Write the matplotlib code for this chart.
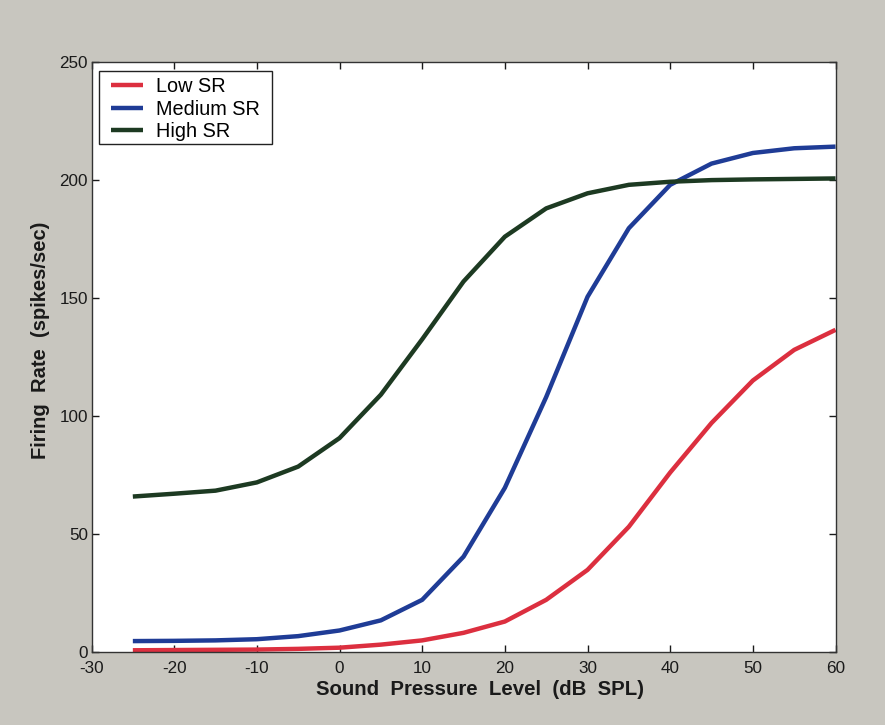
import matplotlib
matplotlib.use("Agg")
import matplotlib.pyplot as plt
from matplotlib.patches import Rectangle

# Sound level (dB SPL) at which the rate-level functions were sampled
level_db = [-25, -20, -15, -10, -5, 0, 5, 10, 15, 20, 25, 30, 35, 40, 45, 50, 55, 60]

# Firing rate (spikes/sec) for each spontaneous-rate class
low_sr = [0.6, 0.7, 0.8, 0.9, 1.2, 1.7, 3.0, 4.8, 8.0, 12.8, 22.0, 34.7, 53.0, 76.0,
          97.0, 115.0, 128.0, 136.5]
medium_sr = [4.5, 4.6, 4.8, 5.3, 6.6, 9.0, 13.3, 22.0, 40.3, 69.5, 108.0, 150.5, 179.6,
             198.0, 207.0, 211.5, 213.5, 214.2]
high_sr = [65.8, 67.0, 68.3, 71.8, 78.5, 90.6, 109.0, 132.5, 157.0, 176.0, 188.0, 194.4,
           198.0, 199.3, 200.0, 200.3, 200.5, 200.7]

series_names = ["Low SR", "Medium SR", "High SR"]
series_colors = ["#dc2f3f", "#1f3c96", "#1d3a22"]

x_ticks = [-30, -20, -10, 0, 10, 20, 30, 40, 50, 60]
y_ticks = [0, 50, 100, 150, 200, 250]

plt.rcParams["font.family"] = ["Liberation Sans", "DejaVu Sans"]
plt.rcParams["axes.unicode_minus"] = False

fig = plt.figure(figsize=(8.85, 7.25), dpi=100, facecolor="#c8c6bf")
ax = fig.add_axes([0.1034, 0.1011, 0.8407, 0.8131])
ax.set_facecolor("white")

for ys, name, col in zip([low_sr, medium_sr, high_sr], series_names, series_colors):
    ax.plot(level_db, ys, color=col, lw=3.2, label=name, solid_capstyle="butt")

ax.set_xlim(-30, 60)
ax.set_ylim(0, 250)
ax.set_xticks(x_ticks)
ax.set_yticks(y_ticks)
ax.tick_params(direction="in", length=5, width=1, top=True, right=True,
               labelsize=12.3, colors="#1a1a1a")
ax.tick_params(axis="x", pad=7)
ax.tick_params(axis="y", pad=2.5)
for s in ax.spines.values():
    s.set_color("#333333")
    s.set_linewidth(1.0)

ax.set_xlabel("Sound  Pressure  Level  (dB  SPL)", fontsize=14.7, fontweight="bold",
              color="#1a1a1a", va="top")
ax.xaxis.set_label_coords(0.522, -0.048)
ax.set_ylabel("Firing  Rate  (spikes/sec)", fontsize=14.5, fontweight="bold",
              color="#1a1a1a")
ax.yaxis.set_label_coords(-0.056, 0.529)

# Legend box outline, drawn separately so the inner margins can differ per side
ax.add_patch(Rectangle((0.0101, 0.8612), 0.2325, 0.1238, transform=ax.transAxes,
                       facecolor="white", edgecolor="#222222", lw=1.0, zorder=4.9))
leg = ax.legend(loc="upper left", bbox_to_anchor=(0.0262, 0.9746), fontsize=14.3,
                frameon=False, handlelength=1.6, handletextpad=0.65,
                borderpad=0.0, labelspacing=0.17, borderaxespad=0)
leg.set_zorder(5)

fig.savefig("out.png", dpi=100, facecolor=fig.get_facecolor())
